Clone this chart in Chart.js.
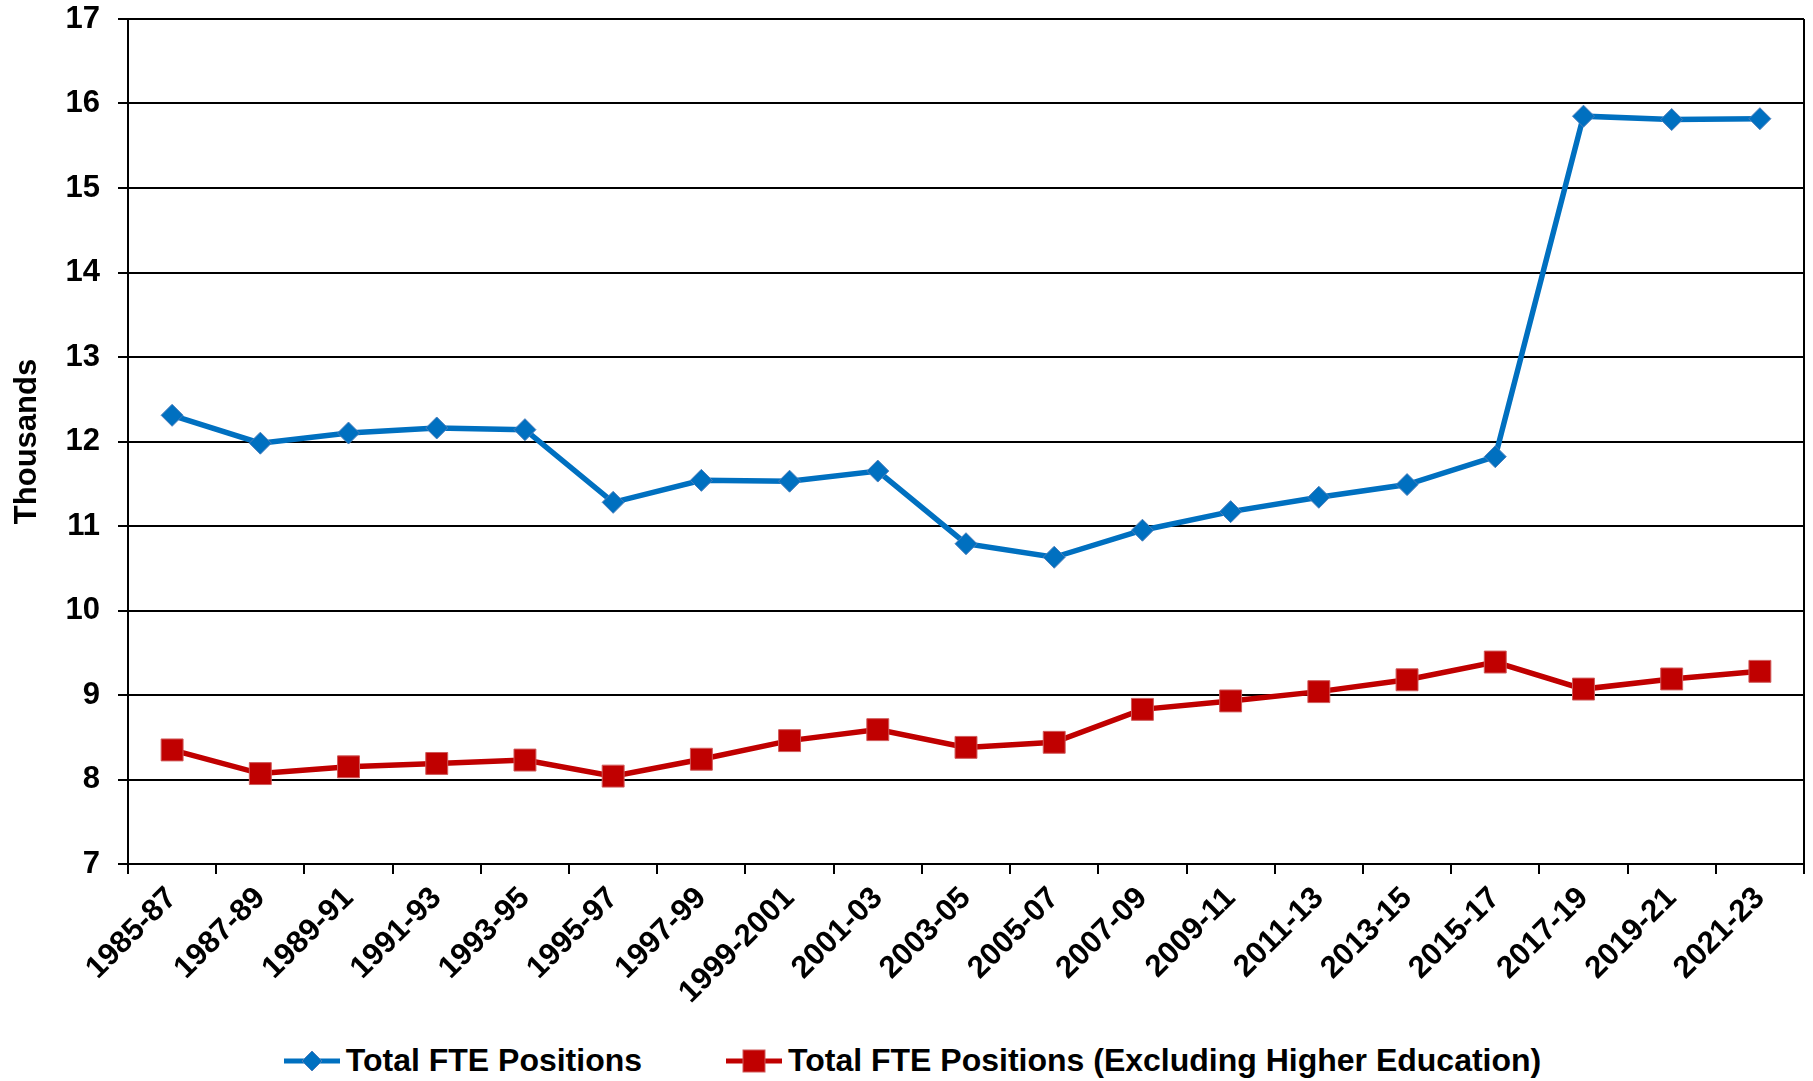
<!DOCTYPE html>
<html>
<head>
<meta charset="utf-8">
<script src="https://cdn.jsdelivr.net/npm/chart.js@4.4.1/dist/chart.umd.min.js"></script>
<style>
	body { margin: 0; background: #fff; overflow: hidden; }
	#wrap { position: relative; width: 1813px; height: 1040px; }
	#legend {
		width: 1813px; height: 41px;
		display: flex; align-items: center; justify-content: center;
		gap: 84px; padding-left: 12px; box-sizing: border-box;
		font-family: "Liberation Sans", Arial, sans-serif; font-weight: bold; font-size: 32px;
		color: #000;
	}
	.item { display: flex; align-items: center; gap: 6px; white-space: nowrap; }
	.item svg { display: block; }
</style>
</head>
<body>
<div id="wrap"><canvas id="myChart"></canvas></div>
<div id="legend">
	<div class="item">
		<svg width="56" height="24"><line x1="0" y1="12" x2="56" y2="12" stroke="#0070C0" stroke-width="5"/><polygon points="28,2 38,12 28,22 18,12" fill="#0070C0" stroke="#4A7EBB" stroke-width="1"/></svg>
		<span>Total FTE Positions</span>
	</div>
	<div class="item">
		<svg width="56" height="24"><line x1="0" y1="12" x2="56" y2="12" stroke="#C00000" stroke-width="5"/><rect x="17" y="1" width="22" height="22" fill="#C00000" stroke="#D05A5A" stroke-width="1"/></svg>
		<span>Total FTE Positions (Excluding Higher Education)</span>
	</div>
</div>
<script>
// biennium labels
const periods = ['1985-87', '1987-89', '1989-91', '1991-93', '1993-95', '1995-97', '1997-99',
	'1999-2001', '2001-03', '2003-05', '2005-07', '2007-09', '2009-11', '2011-13', '2013-15',
	'2015-17', '2017-19', '2019-21', '2021-23'];

// thousands of FTE
const totalFTE = [12.31, 11.98, 12.10, 12.16, 12.14, 11.28, 11.54, 11.53, 11.65, 10.79,
	10.63, 10.95, 11.17, 11.34, 11.49, 11.82, 15.85, 15.81, 15.82];
const totalNoHigherEd = [8.35, 8.07, 8.15, 8.19, 8.23, 8.04, 8.24, 8.46, 8.59, 8.38,
	8.44, 8.83, 8.93, 9.04, 9.18, 9.39, 9.07, 9.19, 9.28];

const yMin = 7, yMax = 17, yStep = 1;

window.onload = function () {
	const fontFamily = '"Liberation Sans", Arial, sans-serif';

	// right edge of the plot frame
	const frameRight = {
		id: 'frameRight',
		afterDraw(chart) {
			const a = chart.chartArea;
			const ctx = chart.ctx;
			ctx.save();
			ctx.strokeStyle = '#000';
			ctx.lineWidth = 2;
			ctx.beginPath();
			ctx.moveTo(a.right, a.top);
			ctx.lineTo(a.right, a.bottom);
			ctx.stroke();
			ctx.restore();
		}
	};

	const data = {
		labels: periods,
		datasets: [{
			label: 'Total FTE Positions',
			data: totalFTE,
			borderColor: '#0070C0',
			backgroundColor: '#0070C0',
			borderWidth: 5.5,
			pointStyle: 'rectRot',
			pointRadius: 11,
			pointBorderColor: '#4A7EBB',
			pointBorderWidth: 1,
			tension: 0
		},
		{
			label: 'Total FTE Positions (Excluding Higher Education)',
			data: totalNoHigherEd,
			borderColor: '#C00000',
			backgroundColor: '#C00000',
			borderWidth: 5.5,
			pointStyle: 'rect',
			pointRadius: 15.5,
			pointBorderColor: '#D05A5A',
			pointBorderWidth: 1,
			tension: 0
		}]
	};

	const config = {
		type: 'line',
		data: data,
		options: {
			responsive: true,
			maintainAspectRatio: false,
			animation: false,
			layout: { autoPadding: false, padding: { top: 19, right: 9, left: 0, bottom: 0 } },
			plugins: {
				legend: { display: false },
				tooltip: { enabled: false },
				title: { display: false }
			},
			scales: {
				x: {
					offset: true,
					grid: {
						offset: true,
						drawOnChartArea: false,
						drawTicks: true,
						tickLength: 10,
						color: '#000',
						lineWidth: 2
					},
					border: { color: '#000', width: 2 },
					ticks: {
						color: '#000',
						font: { family: fontFamily, size: 31, weight: 'bold' },
						minRotation: 45,
						maxRotation: 45,
						autoSkip: false,
						padding: 6
					},
					afterFit: function (scale) {
						scale.height = 176;
						scale.paddingLeft = 0;
						scale.paddingRight = 0;
					}
				},
				y: {
					min: yMin,
					max: yMax,
					grid: {
						color: '#000',
						lineWidth: 2,
						tickLength: 10
					},
					border: { color: '#000', width: 2 },
					ticks: {
						stepSize: yStep,
						color: '#000',
						padding: 18,
						font: { family: fontFamily, size: 31, weight: 'bold' }
					},
					title: {
						display: true,
						text: 'Thousands',
						color: '#000',
						padding: { top: 9, bottom: 0 },
						font: { family: fontFamily, size: 31, weight: 'bold' }
					},
					afterFit: function (scale) {
						scale.width = 128;
						scale.paddingTop = 0;
						scale.paddingBottom = 0;
					}
				}
			}
		},
		plugins: [frameRight]
	};

	const ctx = document.getElementById('myChart').getContext('2d');
	new Chart(ctx, config);
};
</script>
</body>
</html>
